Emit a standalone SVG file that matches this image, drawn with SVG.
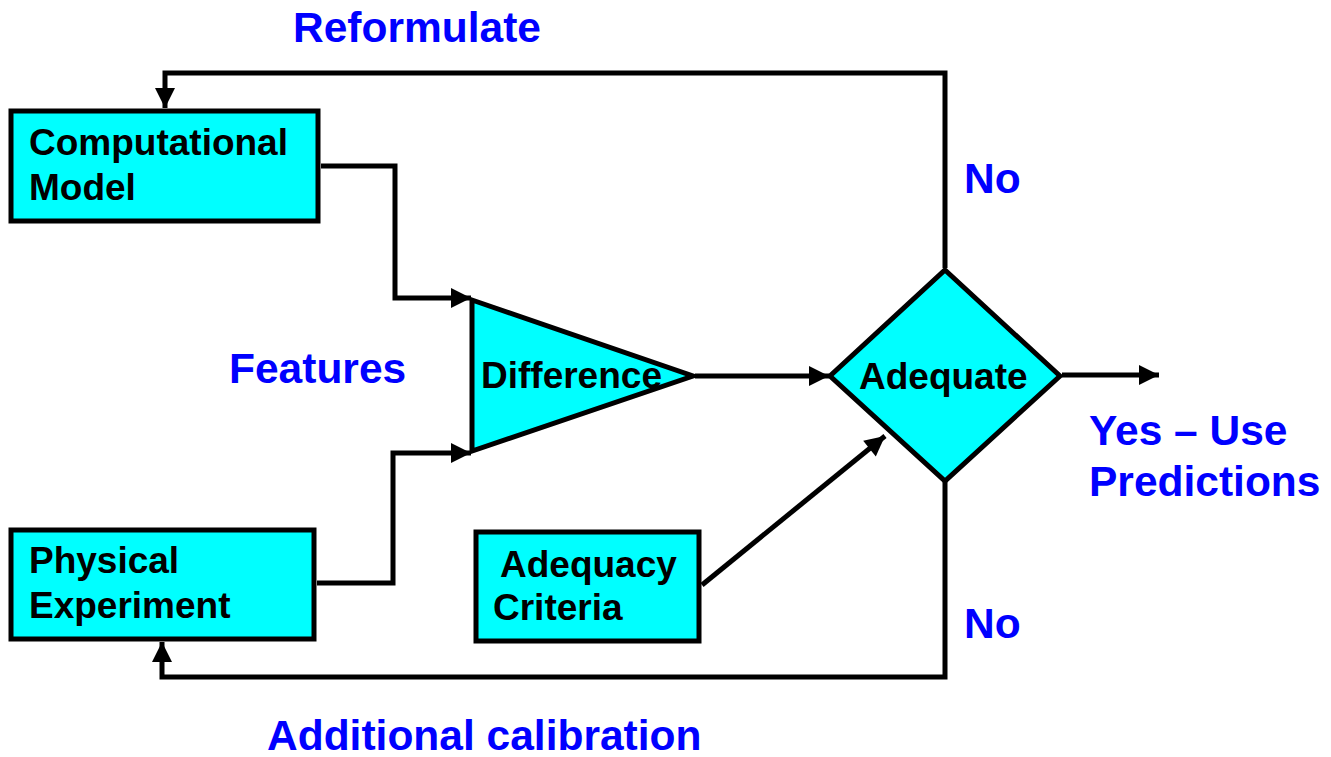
<svg xmlns="http://www.w3.org/2000/svg" width="1331" height="757" viewBox="0 0 1331 757">
<style>
.node{fill:#00FFFF;stroke:#000;stroke-width:5;}
.lbl{font-family:"Liberation Sans",Arial,sans-serif;font-weight:bold;font-size:37px;fill:#000;}
.blue{font-family:"Liberation Sans",Arial,sans-serif;font-weight:bold;font-size:42.5px;fill:#0000FF;}
.conn{fill:none;stroke:#000;stroke-width:5;}
</style>
<defs>
<marker id="ah" markerUnits="userSpaceOnUse" markerWidth="24" markerHeight="24" refX="20" refY="10" orient="auto" overflow="visible">
<path d="M0,0 L20,10 L0,20 Z" fill="#000"/>
</marker>
</defs>
<rect width="1331" height="757" fill="#fff"/>
<g id="connectors">
<path class="conn" d="M945,268 V73 H165 V108" marker-end="url(#ah)"/>
<path class="conn" d="M321,166 H395 V298 H471" marker-end="url(#ah)"/>
<path class="conn" d="M317,583 H393 V453 H471" marker-end="url(#ah)"/>
<path class="conn" d="M695,376 H829" marker-end="url(#ah)"/>
<path class="conn" d="M1062,375 H1159" marker-end="url(#ah)"/>
<path class="conn" d="M702,585 L885,436" marker-end="url(#ah)"/>
<path class="conn" d="M945,480 V677 H162 V642" marker-end="url(#ah)"/>
</g>
<g id="computational-model">
<rect class="node" x="11" y="111" width="307" height="110"/>
<text class="lbl" x="29" y="155">Computational</text>
<text class="lbl" x="29" y="200">Model</text>
</g>
<g id="physical-experiment">
<rect class="node" x="11" y="530" width="303" height="109"/>
<text class="lbl" x="29" y="573">Physical</text>
<text class="lbl" x="29" y="618">Experiment</text>
</g>
<g id="difference">
<polygon class="node" points="472,300 693,376 472,451"/>
<text class="lbl" x="481" y="388">Difference</text>
</g>
<g id="adequate">
<polygon class="node" points="945,270 1060,376 945,481 830,376"/>
<text class="lbl" x="859" y="389">Adequate</text>
</g>
<g id="adequacy-criteria">
<rect class="node" x="476" y="532" width="223" height="109"/>
<text class="lbl" x="500" y="577">Adequacy</text>
<text class="lbl" x="493" y="620">Criteria</text>
</g>
<g id="labels">
<text class="blue" x="293" y="42">Reformulate</text>
<text class="blue" x="229" y="383">Features</text>
<text class="blue" x="964" y="193">No</text>
<text class="blue" x="964" y="638">No</text>
<text class="blue" x="1089" y="445">Yes – Use</text>
<text class="blue" x="1089" y="496">Predictions</text>
<text class="blue" x="267" y="750">Additional calibration</text>
</g>
</svg>
